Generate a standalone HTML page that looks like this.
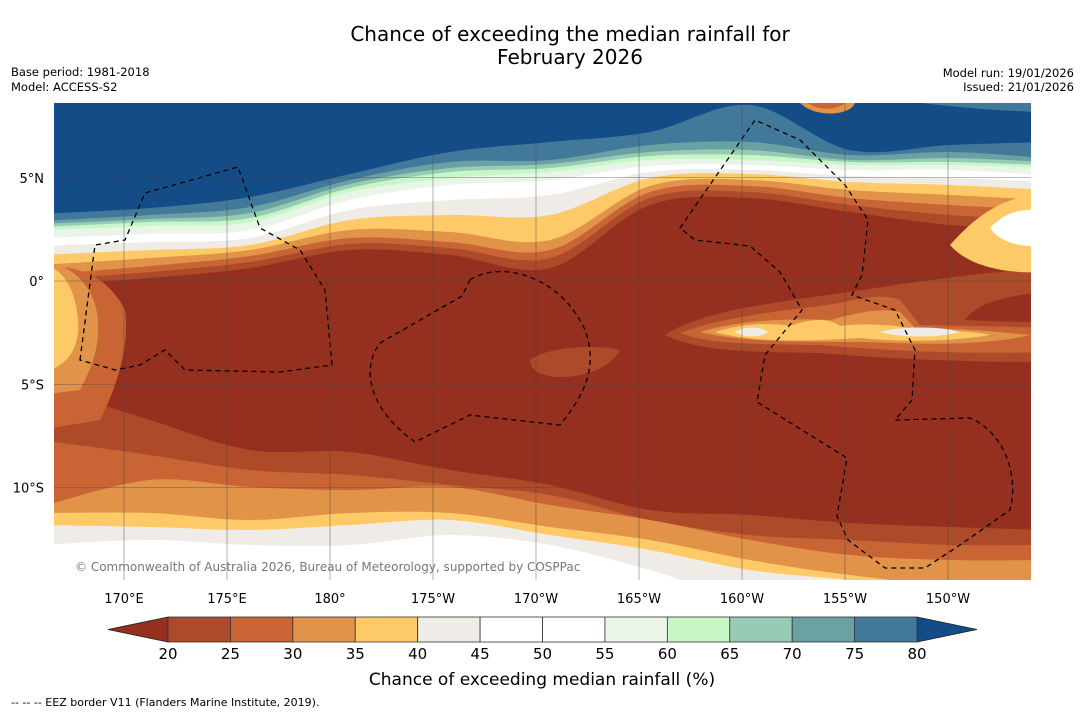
<!DOCTYPE html>
<html><head><meta charset="utf-8"><style>
body{margin:0;background:#fff;width:1085px;height:713px;overflow:hidden;font-family:"Liberation Sans","DejaVu Sans",sans-serif}
svg text{font-family:"DejaVu Sans","Liberation Sans",sans-serif}
</style></head><body>
<svg id="c" width="1085" height="713">
<text x="570" y="41" text-anchor="middle" font-size="20">Chance of exceeding the median rainfall for</text>
<text x="570" y="64" text-anchor="middle" font-size="20">February 2026</text>
<text x="11" y="76" font-size="11.5">Base period: 1981-2018</text>
<text x="11" y="91" font-size="11.5">Model: ACCESS-S2</text>
<text x="1074" y="77" font-size="11.5" text-anchor="end">Model run: 19/01/2026</text>
<text x="1074" y="91" font-size="11.5" text-anchor="end">Issued: 21/01/2026</text>
<defs><clipPath id="mc"><rect x="54" y="103" width="977" height="477"/></clipPath></defs>
<g id="map" clip-path="url(#mc)"></g>
<g id="axes"></g>
<g id="cb"></g>
<text x="542" y="685" text-anchor="middle" font-size="17">Chance of exceeding median rainfall (%)</text>
<text x="11" y="706" font-size="11">--  --  -- EEZ border V11 (Flanders Marine Institute, 2019).</text>
</svg>
<script>
const binEdges=[20,25,30,35,40,45,50,55,60,65,70,75,80];
const binColors=["#ad4a29","#c96535","#e09349","#fdca67","#efebe6","#ffffff","#ffffff","#e9f5e9","#c7f7c7","#98cbb5","#6aa1a3","#42799a"];
const lowColor="#953020", highColor="#144c88";
const lonTicks=[170,175,180,185,190,195,200,205,210];
const lonLabels=["170°E","175°E","180°","175°W","170°W","165°W","160°W","155°W","150°W"];
const latTicks=[5,0,-5,-10];
const latLabels=["5°N","0°","5°S","10°S"];
const NS="http://www.w3.org/2000/svg";
const lonX=l=>124+(l-170)*20.6, latY=a=>281-a*20.65;
function mk(t,a,p){const e=document.createElementNS(NS,t);for(const k in a)e.setAttribute(k,a[k]);(p||document.getElementById('c')).appendChild(e);return e;}
function smooth(pts){let d="M"+pts[0][0]+","+pts[0][1];for(let i=0;i<pts.length-1;i++){const p0=pts[Math.max(i-1,0)],p1=pts[i],p2=pts[i+1],p3=pts[Math.min(i+2,pts.length-1)];d+=` C${p1[0]+(p2[0]-p0[0])/6},${p1[1]+(p2[1]-p0[1])/6} ${p2[0]-(p3[0]-p1[0])/6},${p2[1]-(p3[1]-p1[1])/6} ${p2[0]},${p2[1]}`;}return d;}
const mapG=document.getElementById('map');
mk('rect',{x:54,y:103,width:977,height:477,fill:lowColor},mapG);
const xs=[40,150,250,350,450,550,650,750,850,950,1045];
const bottomBands=[
 [[385,420,450,452,470,485,510,515,523,527,530],"#ad4a29"],
 [[440,455,470,475,485,495,520,535,540,545,545],"#c96535"],
 [[507,480,487,490,487,505,520,540,555,560,560],"#e09349"],
 [[513,513,520,513,513,527,540,560,575,585,585],"#fdca67"],
 [[525,527,530,525,520,535,550,570,580,590,590],"#efebe6"],
 [[545,540,545,545,535,545,570,600,600,600,600],"#ffffff"]];
bottomBands.forEach(([ys,c])=>{const pts=xs.map((x,i)=>[x,ys[i]]);const p=mk('path',{d:smooth(pts)+" L1045,600 L40,600 Z",fill:c},mapG);

});
const topBands=[
 [[285,278,268,250,255,268,205,198,212,225,230],"#ad4a29"],
 [[280,272,262,244,248,258,198,192,205,215,220],"#c96535"],
 [[275,266,256,238,242,250,192,186,198,205,210],"#e09349"],
 [[265,258,250,230,232,240,186,180,190,195,200],"#fdca67"],
 [[255,250,245,220,215,215,178,174,182,185,190],"#efebe6"],
 [[246,242,238,210,200,195,172,170,176,178,182],"#ffffff"],
 [[238,234,230,200,185,180,166,165,170,170,175],"#e9f5e9"],
 [[230,226,222,192,178,172,160,160,165,165,168],"#c7f7c7"],
 [[227,222,218,188,172,168,156,155,162,162,165],"#98cbb5"],
 [[224,219,213,184,168,164,152,150,160,158,162],"#6aa1a3"],
 [[221,215,207,180,162,160,145,142,155,152,158],"#42799a"],
 [[214,208,197,174,152,142,132,105,150,145,142],highColor]];
topBands.forEach(([ys,c])=>{const pts=xs.map((x,i)=>[x,ys[i]]);const s=smooth(pts);const p=mk('path',{d:"M40,95 L"+s.slice(1)+" L1045,95 Z",fill:c},mapG);

});
const patches=[
 ["M860,95 C900,100 960,110 1045,112 L1045,95 Z","#42799a"],
 ["M40,268 C80,262 110,280 125,310 C130,350 115,390 100,420 L40,430 Z","#c96535"],
 ["M40,262 C70,262 95,285 98,320 C100,350 90,370 80,390 L40,395 Z","#e09349"],
 ["M40,265 C60,265 75,285 78,320 C80,345 70,360 55,368 L40,368 Z","#fdca67"],
 ["M665,335 C700,312 760,305 820,296 C880,288 950,275 1045,268 L1045,292 C1000,296 975,305 965,320 C1000,322 1040,322 1045,322 L1045,362 C980,362 900,360 820,353 C750,352 700,352 665,335 Z","#ad4a29"],
 ["M680,333 C720,318 770,312 820,306 C860,300 880,292 900,300 L920,325 C960,326 1000,326 1045,328 L1045,352 C980,354 900,352 820,345 C760,344 710,345 680,333 Z","#c96535"],
 ["M700,332 C740,320 790,318 830,320 C860,312 880,308 900,312 L915,328 C960,328 1000,332 1030,335 C990,345 930,345 870,342 C800,342 740,342 700,332 Z","#e09349"],
 ["M715,332 C740,324 770,322 790,326 C810,318 830,318 840,326 C870,322 900,326 920,330 C950,330 980,332 990,335 C950,342 900,342 860,338 C800,342 750,342 715,332 Z","#fdca67"],
 ["M735,332 C745,326 760,326 768,332 C760,338 745,338 735,332 Z","#efebe6"],
 ["M880,332 C900,326 940,326 960,332 C940,338 900,338 880,332 Z","#efebe6"],
 ["M950,245 C985,205 1015,195 1045,195 L1045,272 C1010,274 970,268 950,245 Z","#fdca67"],
 ["M990,228 C1005,212 1022,208 1045,210 L1045,246 C1020,248 1000,242 990,228 Z","#ffffff"],
 ["M800,103 C805,92 840,92 855,103 C850,116 815,118 800,103 Z","#e09349"],
 ["M808,103 C815,96 835,96 845,103 C838,110 818,111 808,103 Z","#c96535"],
 ["M530,360 C550,345 600,345 620,350 C610,370 580,378 555,377 C540,375 530,370 530,360 Z","#ad4a29"]];
patches.forEach(([d,c])=>{const p=mk('path',{d:d,fill:c},mapG);

});
const eez=["M80,360 L95,245 L125,240 L145,193 L238,167 L260,228 L300,250 L325,290 L332,365 L280,372 L185,370 L165,350 L140,365 L115,370 Z",
"M470,280 C500,260 560,275 585,330 C600,370 580,400 560,425 L470,415 L415,442 C370,410 360,370 380,343 L462,296 Z",
"M680,228 L755,120 L800,140 L845,185 L868,220 L862,275 L852,295 L895,310 L915,350 L912,400 L895,420 L970,418 C1000,430 1020,470 1010,510 L960,545 L925,568 L885,568 L848,540 L837,516 L847,458 L757,402 L765,355 L802,310 L780,272 L750,246 L695,240 Z"];
eez.forEach(d=>{const p=mk('path',{d:d,fill:"none",stroke:"#000","stroke-width":1.3,"stroke-dasharray":"5,4"},mapG);

});
const ax=document.getElementById('axes');
lonTicks.forEach((l,i)=>{const x=lonX(l);mk('line',{x1:x,x2:x,y1:103,y2:580,stroke:"#444","stroke-width":0.6,opacity:0.7},ax);
const t=mk('text',{x:x,y:603,"text-anchor":"middle","font-size":13},ax);t.textContent=lonLabels[i];

});
latTicks.forEach((a,i)=>{const y=latY(a);mk('line',{x1:54,x2:1031,y1:y,y2:y,stroke:"#444","stroke-width":0.6,opacity:0.7},ax);
const t=mk('text',{x:44,y:y+5,"text-anchor":"end","font-size":13},ax);t.textContent=latLabels[i];

});
const cp=mk('text',{x:75,y:571,"font-size":12,fill:"#777"},ax);cp.textContent="© Commonwealth of Australia 2026, Bureau of Meteorology, supported by COSPPac";


const cb=document.getElementById('cb');
const cx0=168,cw=62.42,cy=617,ch=25;
const cX=v=>cx0+(v-binEdges[0])/5*cw;
mk('polygon',{points:`${cX(20)},${cy} 108,${cy+ch/2} ${cX(20)},${cy+ch}`,fill:lowColor,stroke:"#222","stroke-width":0.8},cb);
mk('polygon',{points:`${cX(80)},${cy} 977,${cy+ch/2} ${cX(80)},${cy+ch}`,fill:highColor,stroke:"#222","stroke-width":0.8},cb);
binColors.forEach((c,i)=>{const r=mk('rect',{x:cX(binEdges[i]),y:cy,width:cX(binEdges[i+1])-cX(binEdges[i]),height:ch,fill:c,stroke:"#333","stroke-width":0.8},cb);

});
binEdges.forEach(v=>{const t=mk('text',{x:cX(v),y:659,"text-anchor":"middle","font-size":15},cb);t.textContent=v;

});
</script>
</body></html>
